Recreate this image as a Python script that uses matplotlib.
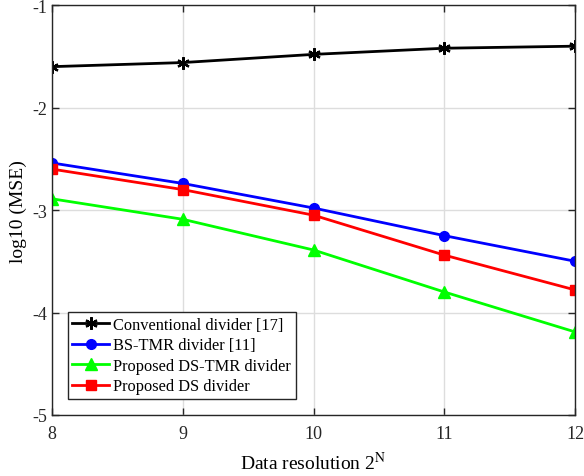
import matplotlib
matplotlib.use('Agg')
from matplotlib import pyplot as plt

# data
resolution = [8, 9, 10, 11, 12]
conventional = [-1.60, -1.56, -1.48, -1.42, -1.40]
bs_tmr = [-2.54, -2.74, -2.98, -3.25, -3.50]
ds_tmr = [-2.89, -3.09, -3.39, -3.80, -4.19]
ds = [-2.60, -2.80, -3.05, -3.44, -3.78]

plt.rcParams['font.family'] = ['Liberation Serif', 'DejaVu Serif']
plt.rcParams['mathtext.fontset'] = 'stix'

fig = plt.figure(figsize=(5.84, 4.77), dpi=100)
ax = fig.add_axes([0.089, 0.128, 0.896, 0.859])

ax.plot(resolution, conventional, color='black', marker=(6, 2, 0), markersize=9,
        markeredgewidth=1.6, linewidth=2, label='Conventional divider [17]')
ax.plot(resolution, bs_tmr, color='blue', marker='o', markersize=7,
        linewidth=2, label='BS-TMR divider [11]')
ax.plot(resolution, ds_tmr, color='#00ff00', marker='^', markersize=8,
        linewidth=2, label='Proposed DS-TMR divider')
ax.plot(resolution, ds, color='red', marker='s', markersize=7,
        linewidth=2, label='Proposed DS divider')

ax.set_xlim(8, 12)
ax.set_ylim(-5, -1)
ax.set_xticks([8, 9, 10, 11, 12])
ax.set_yticks([-5, -4, -3, -2, -1])
ax.set_yticklabels(['-5', '-4', '-3', '-2', '-1'])
ax.grid(True, color='#dddddd', linewidth=1)
ax.tick_params(direction='in', top=True, right=True, labelsize=13, length=5,
               width=1, colors='#262626')
ax.tick_params(axis='x', pad=7)
for s in ax.spines.values():
    s.set_linewidth(1)
    s.set_color('#262626')

ax.set_xlabel('Data resolution 2$^{\\mathrm{N}}$', fontsize=14, labelpad=7)
ax.set_ylabel('log10 (MSE)', fontsize=14, labelpad=4)

leg = ax.legend(loc='lower left', fontsize=11.8, fancybox=False, framealpha=1,
                edgecolor='#262626', borderpad=0.3, labelspacing=0.28,
                handlelength=2.25, handletextpad=0.25, borderaxespad=0.95)
leg.get_frame().set_linewidth(1)

fig.savefig('out.png', dpi=100)
